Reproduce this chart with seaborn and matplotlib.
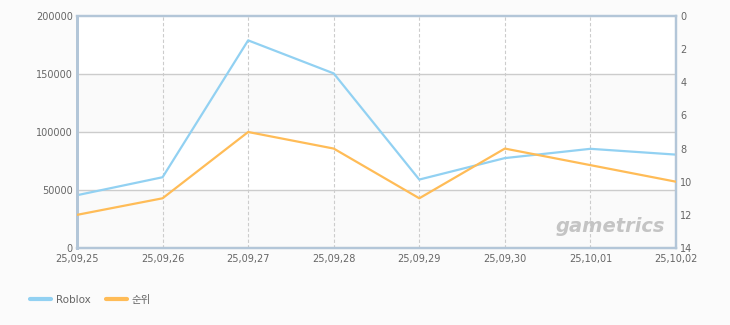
import matplotlib
matplotlib.use("Agg")
import matplotlib.pyplot as plt
import seaborn as sns
import pandas as pd
from matplotlib.lines import Line2D

dates = ["25,09,25", "25,09,26", "25,09,27", "25,09,28", "25,09,29", "25,09,30", "25,10,01", "25,10,02"]
roblox = [45500, 61000, 179000, 150500, 59000, 77500, 85500, 80500]
rank = [12, 11, 7, 8, 11, 8, 9, 10]
left_ticks = [0, 50000, 100000, 150000, 200000]
right_ticks = [0, 2, 4, 6, 8, 10, 12, 14]

sns.set_style("white")
plt.rcParams['font.family'] = ['DejaVu Sans', 'Noto Sans CJK KR']

BLUE = "#92d1f2"
ORANGE = "#ffbc57"
SPINE = "#b3c6d8"
GRID = "#cccccc"
TXT = "#666666"

df = pd.DataFrame({"x": range(len(dates)), "date": dates, "roblox": roblox, "rank": rank})

fig = plt.figure(figsize=(7.3, 3.25), dpi=100)
fig.patch.set_facecolor("#fbfbfb")
ax = fig.add_axes([77/730, 1-248/325, (676-77)/730, (248-16)/325])
ax.set_facecolor("white")

# alternating bands
for i in range(len(left_ticks)-1):
    if i % 2 == 0:
        ax.axhspan(left_ticks[i], left_ticks[i+1], color="#fafafa", zorder=0, lw=0)

sns.lineplot(data=df, x="x", y="roblox", ax=ax, color=BLUE, lw=1.6, zorder=3)
ax.set_xlim(0, len(dates)-1)
ax.set_ylim(0, 200000)
ax.set_yticks(left_ticks)
ax.set_yticklabels([str(v) for v in left_ticks])
ax.set_xticks(range(len(dates)))
ax.set_xticklabels(dates)
ax.set_xlabel("")
ax.set_ylabel("")
for y in left_ticks[1:-1]:
    ax.axhline(y, color=GRID, lw=1, zorder=1)
for x in range(1, len(dates)-1):
    ax.axvline(x, color=GRID, lw=0.8, ls=(0, (3, 2)), zorder=1)
ax.tick_params(axis="both", length=0, labelsize=7, colors=TXT, pad=3)
ax.tick_params(axis="x", pad=4)

ax.text(0.982, 0.069, "gametrics", transform=ax.transAxes, ha="right", va="baseline",
        fontsize=14, fontweight="bold", style="italic", color="#c4c4c4", zorder=1.5)

ax2 = ax.twinx()
sns.lineplot(data=df, x="x", y="rank", ax=ax2, color=ORANGE, lw=1.6, zorder=3)
ax2.set_ylim(14, 0)
ax2.set_yticks(right_ticks)
ax2.set_ylabel("")
ax2.tick_params(axis="y", length=0, labelsize=7, colors=TXT, pad=3)
ax2.set_xlim(0, len(dates)-1)

for a in (ax, ax2):
    for s in a.spines.values():
        s.set_color(SPINE)
        s.set_linewidth(1.6)
    a.spines["left"].set_linewidth(2)
ax.spines["bottom"].set_color("#a9bccf")

handles = [Line2D([0], [0], color=BLUE, lw=3), Line2D([0], [0], color=ORANGE, lw=3)]
fig.legend(handles, ["Roblox", "순위"], loc="center left", bbox_to_anchor=(21/730, 1-300/325),
           ncol=2, frameon=False, fontsize=7.5, labelcolor=TXT, handlelength=2.0,
           handletextpad=0.5, columnspacing=1.4)

fig.savefig("out.png", dpi=100, facecolor=fig.get_facecolor())
